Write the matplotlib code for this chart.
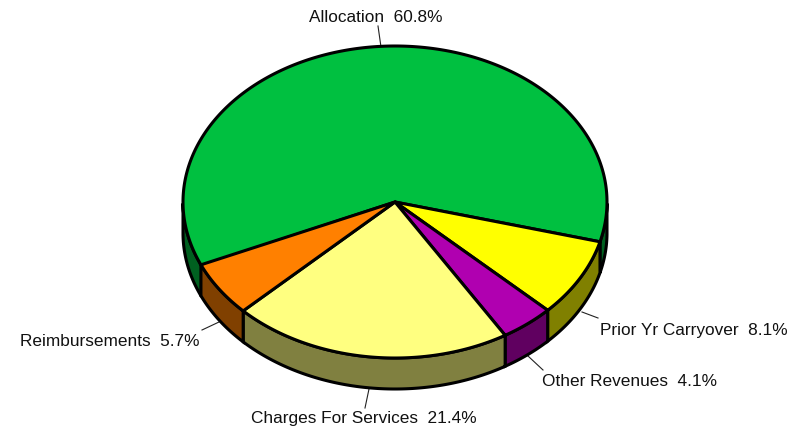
import numpy as np
import matplotlib
matplotlib.use('Agg')
import matplotlib.pyplot as plt

labels = ['Allocation', 'Prior Yr Carryover', 'Other Revenues', 'Charges For Services', 'Reimbursements']
values = [60.8, 8.1, 4.1, 21.4, 5.7]
colors = ['#00c040', '#ffff00', '#b000b0', '#ffff80', '#ff8000']
sides = ['#006020', '#808000', '#600060', '#808040', '#804000']

plt.rcParams['font.family'] = ['Liberation Sans', 'DejaVu Sans']

fig = plt.figure(figsize=(8.01, 4.33), dpi=100)
ax = fig.add_axes([0, 0, 1, 1])
ax.set_xlim(0, 801)
ax.set_ylim(433, 0)
ax.axis('off')

cx, cy, rx, ry, depth = 395, 202, 212, 156, 31
start = 204.1

# side wall first, only the front half shows
ang = start
for v, c in zip(values, sides):
    a0, a1 = ang, ang - v * 3.6
    ang = a1
    t = np.radians(np.linspace(a0, a1, 400))
    front = np.sin(t) <= 0
    # a big slice can have two separate front pieces
    for part in np.split(t, np.where(np.diff(front.astype(int)) != 0)[0] + 1):
        if np.sin(part[len(part) // 2]) > 0 or len(part) < 2:
            continue
        x = cx + rx * np.cos(part)
        y = cy - ry * np.sin(part)
        ax.fill(np.r_[x, x[::-1]], np.r_[y, y[::-1] + depth], fc=c, ec='black', lw=2.2, zorder=2)

# top of the pie
ang = start
for v, c in zip(values, colors):
    a0, a1 = ang, ang - v * 3.6
    ang = a1
    t = np.radians(np.linspace(a0, a1, 300))
    x = np.r_[cx, cx + rx * np.cos(t)]
    y = np.r_[cy, cy - ry * np.sin(t)]
    ax.fill(x, y, fc=c, ec='black', lw=2.2, zorder=3)

# label text and leader lines
label_xy = [(375.5, 18, 'center'), (788, 330, 'right'), (717.5, 381, 'right'), (364, 419, 'center'), (199, 342, 'right')]
leader = [((378, 26), (381, 47)), ((598, 318), (582, 312)), ((543, 370), (528, 356)), ((365, 408), (369, 389)), ((202, 330), (219, 322))]
for lab, v, (tx, ty, ha), (p0, p1) in zip(labels, values, label_xy, leader):
    ax.text(tx, ty, f'{lab}  {v}%', ha=ha, va='center', fontsize=12.45, color='#111111', zorder=5)
    ax.plot([p0[0], p1[0]], [p0[1], p1[1]], color='#222222', lw=0.8, zorder=1)

fig.savefig('out.png', dpi=100)
